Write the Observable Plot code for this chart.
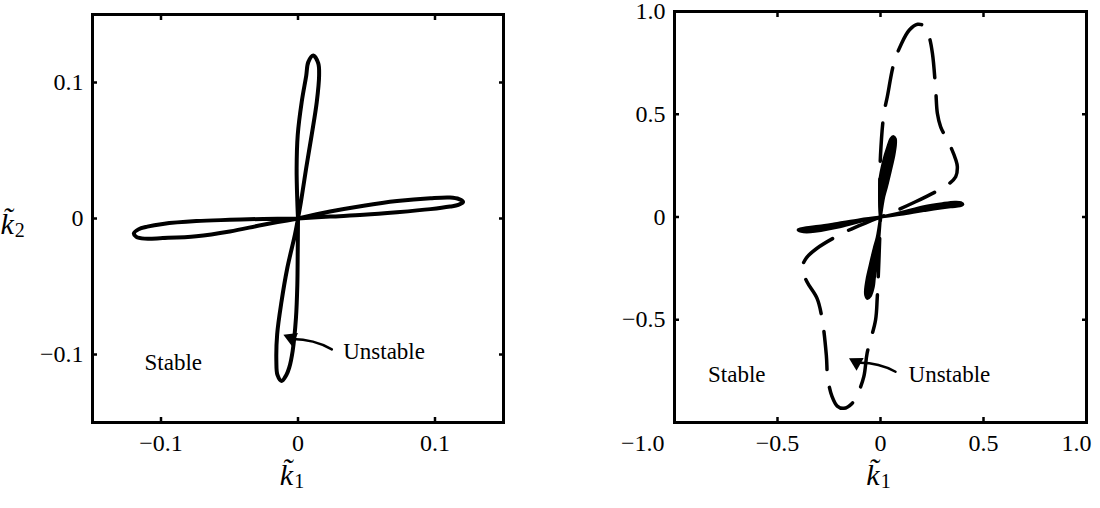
<!DOCTYPE html>
<html><head><meta charset="utf-8">
<script src="https://cdn.jsdelivr.net/npm/d3@7"></script>
<script src="https://cdn.jsdelivr.net/npm/@observablehq/plot@0.6"></script>
<style>
body{margin:0;background:#fff;}
#wrap{position:relative;width:1100px;height:508px;}
#a,#b{position:absolute;top:0;width:550px;height:508px;}
#a{left:0}#b{left:550px}
</style></head><body><div id="wrap"><div id="a"></div><div id="b"></div></div>
<script>
// ---------- data ----------
// Left panel: four petals of one closed curve (petal id, k1, k2)
const leftPetal = ["r","r","r","r","r","r","r","r","r","r","r","r","r","r","r",
  "u","u","u","u","u","u","u","u","u","u","u","u","u","u","u",
  "l","l","l","l","l","l","l","l","l","l","l","l","l","l","l",
  "d","d","d","d","d","d","d","d","d","d","d","d","d","d","d"];
const leftK1 = [0,0.0234,0.0479,0.0723,0.0967,0.111,0.1175,0.1205,0.117,0.111,0.0967,0.0723,0.0479,0.0234,0,
  0,0.0022,0.0059,0.0100,0.0137,0.0154,0.0148,0.0112,0.0075,0.0060,0.0027,-0.0002,-0.0010,-0.0005,0,
  0,-0.0254,-0.0498,-0.0742,-0.0987,-0.1120,-0.1180,-0.1198,-0.1165,-0.1100,-0.0987,-0.0742,-0.0498,-0.0254,0,
  0,-0.0022,-0.0078,-0.0120,-0.0152,-0.0158,-0.0150,-0.0120,-0.0085,-0.0064,-0.0039,-0.0015,-0.0005,-0.0002,0];
const leftK2 = [0,0.0051,0.0094,0.0128,0.0149,0.0154,0.0143,0.0122,0.0100,0.0088,0.0069,0.0046,0.0027,0.0014,0,
  0,0.0125,0.0366,0.0615,0.0857,0.1050,0.1140,0.1199,0.1150,0.1050,0.0857,0.0615,0.0366,0.0125,0,
  0,-0.0046,-0.0095,-0.0130,-0.0144,-0.0148,-0.0135,-0.0110,-0.0080,-0.0060,-0.0040,-0.0019,-0.0010,-0.0003,0,
  0,-0.0117,-0.0364,-0.0608,-0.0850,-0.1050,-0.1150,-0.1194,-0.1150,-0.1097,-0.0974,-0.0733,-0.0491,-0.0242,0];

// Right panel: thick solid petals (petal id, k1, k2)
const solidPetal = ["r","r","r","r","r","r","r","r","r","r","r","r",
  "u","u","u","u","u","u","u","u","u","u","u","u","u","u",
  "l","l","l","l","l","l","l","l","l","l","l","l",
  "d","d","d","d","d","d","d","d","d","d","d","d","d","d"];
const solidK1 = [0,0.10,0.21,0.30,0.36,0.39,0.40,0.385,0.34,0.21,0.10,0,
  0,-0.002,-0.003,0.016,0.035,0.05,0.062,0.072,0.073,0.065,0.049,0.03,0.016,0,
  0,-0.10,-0.21,-0.30,-0.36,-0.39,-0.40,-0.385,-0.34,-0.21,-0.10,0,
  0,-0.016,-0.03,-0.049,-0.065,-0.073,-0.072,-0.064,-0.05,-0.035,-0.03,-0.018,-0.006,0];
const solidK2 = [0,0.022,0.05,0.065,0.072,0.070,0.062,0.054,0.05,0.031,0.013,0,
  0,0.10,0.18,0.277,0.34,0.38,0.392,0.38,0.359,0.30,0.229,0.15,0.099,0,
  0,-0.013,-0.031,-0.045,-0.052,-0.058,-0.062,-0.07,-0.072,-0.05,-0.022,0,
  0,-0.099,-0.15,-0.229,-0.30,-0.359,-0.38,-0.396,-0.385,-0.34,-0.30,-0.22,-0.08,0];

// Right panel: dashed closed curve
const dashK1 = [0,-0.003,-0.003,0.000,0.016,0.033,0.065,0.10,0.14,0.18,0.21,0.235,0.252,0.268,0.276,0.292,0.337,0.365,0.373,0.365,0.33,0.268,0.17,0.065,0,
  -0.065,-0.17,-0.308,-0.36,-0.381,-0.357,-0.308,-0.284,-0.263,-0.256,-0.235,-0.21,-0.178,-0.138,-0.113,-0.081,-0.065,-0.024,-0.016,-0.008,-0.003,0];
const dashK2 = [0,0.05,0.18,0.30,0.50,0.585,0.748,0.84,0.91,0.938,0.93,0.88,0.797,0.618,0.505,0.439,0.35,0.28,0.245,0.196,0.16,0.123,0.074,0.026,0,
  -0.026,-0.072,-0.152,-0.20,-0.25,-0.315,-0.396,-0.493,-0.672,-0.785,-0.874,-0.92,-0.931,-0.907,-0.866,-0.777,-0.663,-0.501,-0.396,-0.218,-0.08,0];

// annotations
const annText = ["Stable", "Unstable"];
const leftAnnK1 = [-0.112, 0.033];
const leftAnnK2 = [-0.106, -0.098];
const rightAnnK1 = [-0.837, 0.136];
const rightAnnK2 = [-0.769, -0.769];
// arrows: [startK1, startK2, endK1, endK2], head centre
const leftArrow = [0.0247, -0.0962, -0.0044, -0.0886];
const leftHead = [-0.0050, -0.0880];
const rightArrow = [0.073, -0.753, -0.112, -0.710];
const rightHead = [-0.117, -0.707];

// ticks
const leftTicks = [-0.1, 0, 0.1];
const rightXTicks = [-0.5, 0, 0.5];
const rightYTicks = [-0.5, 0, 0.5, 1.0];
const rightAllTicks = [-1.0, -0.5, 0, 0.5, 1.0];

// axis labels: [symbol with tilde, subscript]
const xLabel = ["k\u0303", "1"];
const yLabel = ["k\u0303", "2"];

// ---------- build ----------
const leftData = leftK1.map((v, i) => ({k1: v, k2: leftK2[i], p: leftPetal[i]}));
const solidData = solidK1.map((v, i) => ({k1: v, k2: solidK2[i], p: solidPetal[i]}));
const dashData = dashK1.map((v, i) => ({k1: v, k2: dashK2[i]}));
const ann = (xs, ys) => annText.map((t, i) => ({t, k1: xs[i], k2: ys[i]}));

const FONT = "Liberation Serif, Times New Roman, serif";
const style = {fontFamily: FONT, fontSize: "24px", background: "white", color: "black", overflow: "visible"};
const fmt = d => d === 0 ? "0" : d3.format(".1f")(d);
const TF = 24;

const left = Plot.plot({
  width: 550, height: 508,
  marginLeft: 92, marginRight: 47, marginTop: 14, marginBottom: 86,
  style,
  x: {domain: [-0.15, 0.15]},
  y: {domain: [-0.15, 0.15]},
  marks: [
    Plot.frame({strokeWidth: 3}),
    Plot.axisX({ticks: leftTicks, anchor: "bottom", tickSize: -5, tickPadding: 16, strokeWidth: 2.5, tickFormat: fmt, label: null, fontSize: TF}),
    Plot.axisX({ticks: leftTicks, anchor: "top", tickSize: -5, strokeWidth: 2.5, tickFormat: () => "", label: null}),
    Plot.axisY({ticks: leftTicks, anchor: "left", tickSize: -5, tickPadding: 14, strokeWidth: 2.5, tickFormat: fmt, label: null, fontSize: TF}),
    Plot.axisY({ticks: leftTicks, anchor: "right", tickSize: -5, strokeWidth: 2.5, tickFormat: () => "", label: null}),
    Plot.line(leftData, {x: "k1", y: "k2", z: "p", strokeWidth: 4, curve: "catmull-rom", stroke: "black", strokeLinejoin: "round"}),
    Plot.arrow([leftArrow], {x1: d => d[0], y1: d => d[1], x2: d => d[2], y2: d => d[3], bend: -15, headLength: 0, strokeWidth: 2.5, stroke: "black"}),
    Plot.dot([leftHead], {x: d => d[0], y: d => d[1], symbol: "triangle2", r: 7, fill: "black", rotate: -67}),
    Plot.text(ann(leftAnnK1, leftAnnK2), {x: "k1", y: "k2", text: "t", textAnchor: "start", fontSize: 23, fill: "black"}),
    Plot.text(["@X"], {frameAnchor: "bottom", dy: 62, dx: -6, fontSize: 30, fill: "black"}),
    Plot.text(["@Y"], {frameAnchor: "left", dx: -92, dy: 6, textAnchor: "start", fontSize: 30, fill: "black"})
  ]
});

const right = Plot.plot({
  width: 550, height: 508,
  marginLeft: 124, marginRight: 14, marginTop: 11, marginBottom: 86,
  style,
  x: {domain: [-1, 1]},
  y: {domain: [-1, 1]},
  marks: [
    Plot.frame({strokeWidth: 3}),
    Plot.axisX({ticks: rightXTicks, anchor: "bottom", tickSize: -5, tickPadding: 16, strokeWidth: 2.5, tickFormat: fmt, label: null, fontSize: TF}),
    Plot.axisX({ticks: [rightAllTicks[0]], anchor: "bottom", tickSize: 0, tickPadding: 11, textAnchor: "end", dx: -10, tickFormat: fmt, label: null, fontSize: TF}),
    Plot.axisX({ticks: [rightAllTicks[4]], anchor: "bottom", tickSize: 0, tickPadding: 11, textAnchor: "end", dx: 5, tickFormat: fmt, label: null, fontSize: TF}),
    Plot.axisX({ticks: rightXTicks, anchor: "top", tickSize: -5, strokeWidth: 2.5, tickFormat: () => "", label: null}),
    Plot.axisY({ticks: rightYTicks, anchor: "left", tickSize: -5, tickPadding: 14, strokeWidth: 2.5, tickFormat: fmt, label: null, fontSize: TF}),
    Plot.axisY({ticks: rightYTicks, anchor: "right", tickSize: -5, strokeWidth: 2.5, tickFormat: () => "", label: null}),
    Plot.line(dashData, {x: "k1", y: "k2", strokeWidth: 3.5, strokeDasharray: "38,18", curve: "catmull-rom", stroke: "black"}),
    Plot.line(solidData, {x: "k1", y: "k2", z: "p", strokeWidth: 3, fill: "black", stroke: "black", curve: "catmull-rom"}),
    Plot.arrow([rightArrow], {x1: d => d[0], y1: d => d[1], x2: d => d[2], y2: d => d[3], bend: -15, headLength: 0, strokeWidth: 2.5, stroke: "black"}),
    Plot.dot([rightHead], {x: d => d[0], y: d => d[1], symbol: "triangle2", r: 7, fill: "black", rotate: -61}),
    Plot.text(ann(rightAnnK1, rightAnnK2), {x: "k1", y: "k2", text: "t", textAnchor: "start", fontSize: 23, fill: "black"}),
    Plot.text(["@X"], {frameAnchor: "bottom", dy: 62, dx: -2, fontSize: 30, fill: "black"})
  ]
});

const NS = "http://www.w3.org/2000/svg";
function span(txt, attrs) {
  const s = document.createElementNS(NS, "tspan");
  for (const k in attrs) s.setAttribute(k, attrs[k]);
  s.textContent = txt;
  return s;
}
function fixLabels(svg) {
  svg.querySelectorAll("text").forEach(t => {
    const c = t.textContent;
    if (c !== "@X" && c !== "@Y") return;
    const lab = c === "@X" ? xLabel : yLabel;
    while (t.firstChild) t.removeChild(t.firstChild);
    t.appendChild(span(lab[0], {"font-style": "italic"}));
    t.appendChild(span(lab[1], {"font-size": "20", dx: "1", dy: "3"}));
  });
}
fixLabels(left);
fixLabels(right);

document.getElementById("a").appendChild(left);
document.getElementById("b").appendChild(right);
</script></body></html>
